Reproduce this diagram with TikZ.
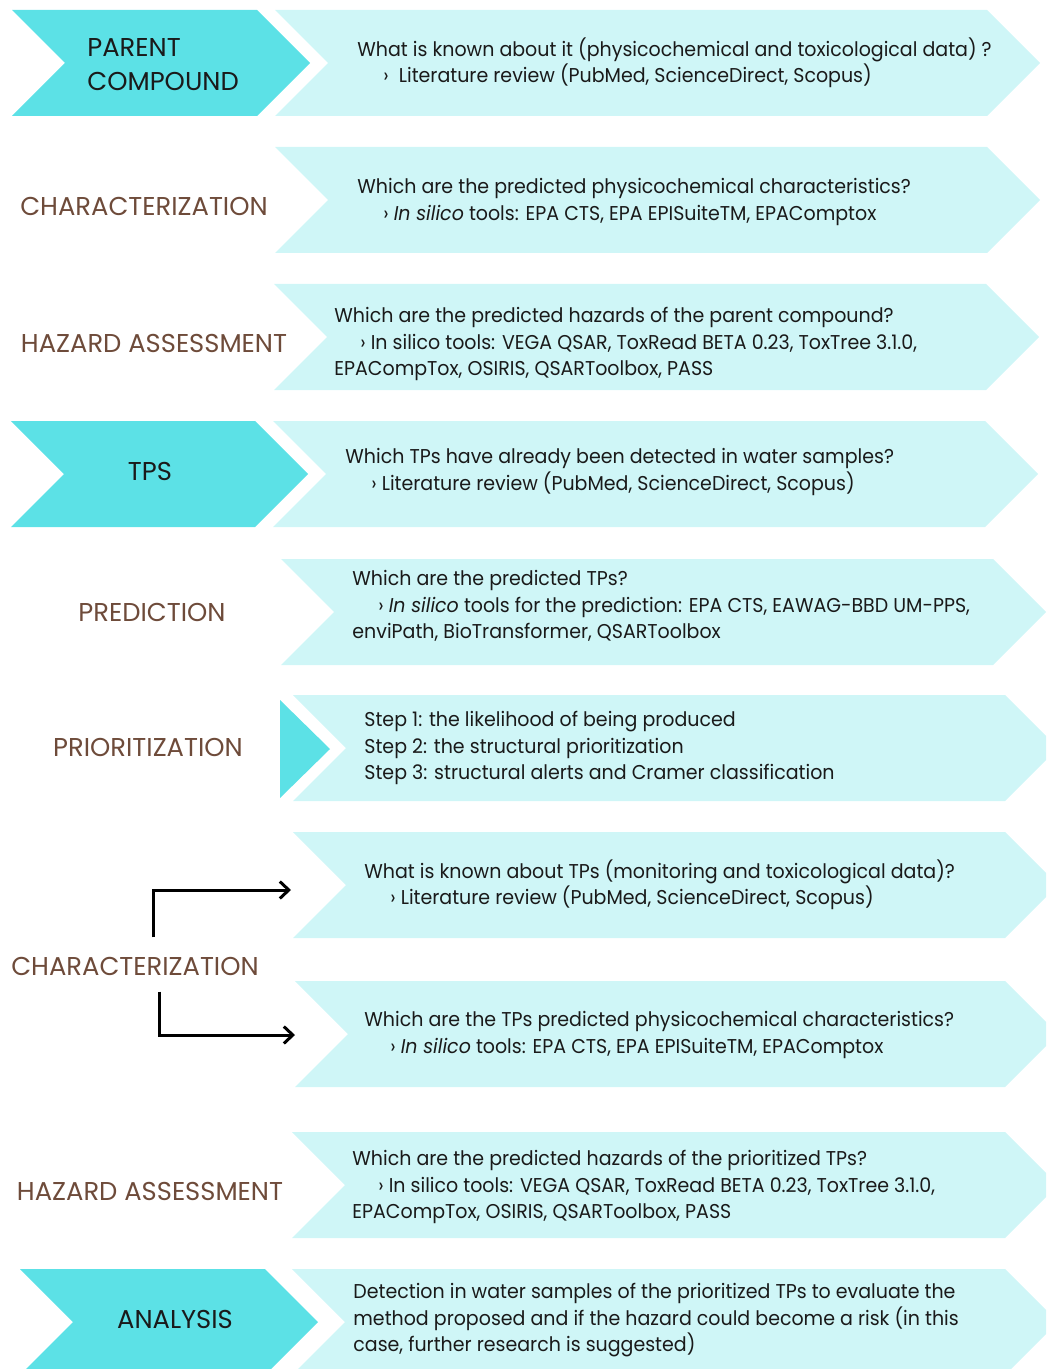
\documentclass[tikz,border=0pt]{standalone}
\usepackage{fontspec}
\setmainfont{Poppins}[FakeStretch=0.95]
\newfontfamily\labelfont{Poppins}
\usetikzlibrary{arrows.meta,positioning}
\definecolor{cyandark}{HTML}{5CE1E6}
\definecolor{cyanlight}{HTML}{CFF6F7}
\definecolor{labelbrown}{HTML}{6E4B3A}
\definecolor{inkblack}{HTML}{1A1A1A}
\tikzset{
  bodytext/.style={anchor=north west,inner sep=0pt,align=left,font=\fontsize{10}{13.3}\selectfont,text=inkblack},
  steplabel/.style={inner sep=0pt,font=\labelfont\fontsize{12.9}{17}\selectfont,text=labelbrown},
  keylabel/.style={steplabel,text=inkblack},
  flowarrow/.style={line width=1.5pt,-{Straight Barb[length=4.5pt,width=8.5pt]}}
}
% chevron: fill, left x, right corner x, top y (height 106)
\newcommand{\chevfill}[4]{\fill[#1] (#2,#4) -- (#3,#4) -- ({#3+53},{#4+53}) -- (#3,{#4+106}) -- (#2,{#4+106}) -- ({#2+53},{#4+53}) -- cycle;}

\begin{document}
\begin{tikzpicture}[x=0.5pt,y=-0.5pt]
\useasboundingbox (0,0) rectangle (1046,1369);
\clip (0,0) rectangle (1046,1369);
% dark chevrons
\chevfill{cyandark}{12}{257}{10}
\chevfill{cyandark}{11}{255}{421}
\chevfill{cyandark}{20}{265}{1269}
\fill[cyandark] (280,700) -- (330,749) -- (280,798) -- cycle;
% light chevrons
\chevfill{cyanlight}{275}{987}{10}
\chevfill{cyanlight}{275}{987}{147}
\chevfill{cyanlight}{274}{986}{284}
\chevfill{cyanlight}{273}{985}{421}
\chevfill{cyanlight}{281}{993}{559}
\chevfill{cyanlight}{293}{1005}{695}
\chevfill{cyanlight}{293}{1005}{832}
\chevfill{cyanlight}{295}{1005}{981}
\chevfill{cyanlight}{292}{1005}{1132}
\chevfill{cyanlight}{292}{1005}{1269}

% labels
\node[keylabel,anchor=west,align=left] (lblparent) at (87,65) {PARENT\\COMPOUND};
\node[steplabel] (lblchar) at (144,206) {CHARACTERIZATION};
\node[steplabel] (lblhazard) at (154,343) {HAZARD ASSESSMENT};
\node[keylabel] (lbltps) at (150,471) {TPS};
\node[steplabel] (lblpred) at (152,612) {PREDICTION};
\node[steplabel] (lblprio) at (148,747) {PRIORITIZATION};
\node[steplabel] (lblchartp) at (135,966) {CHARACTERIZATION};
\node[steplabel] (lblhazardtp) at (150,1191) {HAZARD ASSESSMENT};
\node[keylabel] (lblanalysis) at (175,1319) {ANALYSIS};

% texts
\node[bodytext] (txtparent) at (357,37) {What is known about it (physicochemical and toxicological data) ?\\
  \hspace*{13pt}›\ \ Literature review (PubMed, ScienceDirect, Scopus)};
\node[bodytext] (txtchar) at (357,178) {Which are the predicted physicochemical characteristics?\\
  \hspace*{13pt}› \textit{In silico} tools: EPA CTS, EPA EPISuiteTM, EPAComptox};
\node[bodytext] (txthazard) at (334,307) {Which are the predicted hazards of the parent compound?\\
  \hspace*{13pt}› In silico tools: VEGA QSAR, ToxRead BETA 0.23, ToxTree 3.1.0,\\
  EPACompTox, OSIRIS, QSARToolbox, PASS};
\node[bodytext] (txttps) at (345,448) {Which TPs have already been detected in water samples?\\
  \hspace*{13pt}› Literature review (PubMed, ScienceDirect, Scopus)};
\node[bodytext] (txtpred) at (352,570) {Which are the predicted TPs?\\
  \hspace*{13pt}› \textit{In silico} tools for the prediction: EPA CTS, EAWAG-BBD UM-PPS,\\
  enviPath, BioTransformer, QSARToolbox};
\node[bodytext] (txtprio) at (364,711) {Step 1: the likelihood of being produced\\
  Step 2: the structural prioritization\\
  Step 3: structural alerts and Cramer classification};
\node[bodytext] (txtknown) at (364,859) {What is known about TPs (monitoring and toxicological data)?\\
  \hspace*{13pt}› Literature review (PubMed, ScienceDirect, Scopus)};
\node[bodytext] (txtphys) at (364,1011) {Which are the TPs predicted physicochemical characteristics?\\
  \hspace*{13pt}› \textit{In silico} tools: EPA CTS, EPA EPISuiteTM, EPAComptox};
\node[bodytext] (txthazardtp) at (352,1150) {Which are the predicted hazards of the prioritized TPs?\\
  \hspace*{13pt}› In silico tools: VEGA QSAR, ToxRead BETA 0.23, ToxTree 3.1.0,\\
  EPACompTox, OSIRIS, QSARToolbox, PASS};
\node[bodytext] (txtanalysis) at (353,1283) {Detection in water samples of the prioritized TPs to evaluate the\\
  method proposed and if the hazard could become a risk (in this\\
  case, further research is suggested)};

% arrows into the two TP characterization steps
\coordinate (knownin) at (291,890);
\coordinate (physin) at (295,1035);
\draw[flowarrow] ([xshift=9pt,yshift=9.5pt]lblchartp.north) |- (knownin);
\draw[flowarrow] ([xshift=12pt,yshift=-8pt]lblchartp.south) |- (physin);
\end{tikzpicture}
\end{document}
